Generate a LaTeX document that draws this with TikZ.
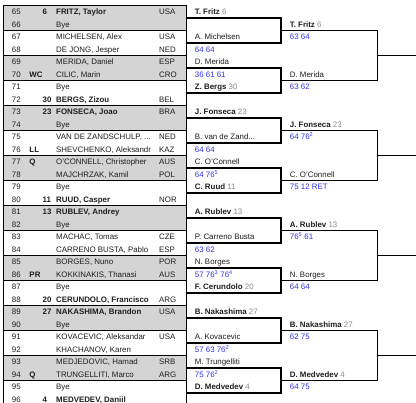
\documentclass[tikz,border=0pt]{standalone}
\usepackage{fontspec}
\setmainfont{Liberation Sans}
\definecolor{ink}{RGB}{30,30,30}
\definecolor{scoreblue}{RGB}{51,51,238}
\definecolor{seedgray}{RGB}{136,136,136}
\definecolor{bandgray}{RGB}{212,212,212}
\newcommand{\seedno}[1]{\textcolor{seedgray}{#1}}
\newcommand{\cutdots}{...}

\begin{document}
\begin{tikzpicture}[x=1pt,y=-1pt,
    cell/.style={anchor=west,inner sep=0pt,text height=5.7pt,text depth=0pt,text=ink,font=\fontsize{7.9}{9}\selectfont},
    score/.style={cell,text=scoreblue},
    sheetrule/.style={line width=0.9pt},
    tie/.style={line width=1.1pt}]
  \useasboundingbox (0,0) rectangle (416,403);
  \clip (0,0) rectangle (416,403);
  % shaded pairs of the sheet
  \foreach \j in {0,1,2,3,4,5,6,7}
    \fill[bandgray] (3,5.5+50*\j) rectangle (186.7,30.5+50*\j);
  \foreach \k in {1,2,3,4,5,6,7,8,9,10,11,12,13,14,15}
    \draw[sheetrule] (3,5.5+25*\k) -- (186.7,5.5+25*\k);
  \draw[sheetrule] (3,410) -- (3,5.5) -- (186.7,5.5) -- (186.7,410);
  % sheet rows
  \foreach \num/\ent/\seed/\plr/\ctry [count=\i from 0] in {
      65//6/{\textbf{FRITZ, Taylor}}/USA, 66///Bye/,
      67///{MICHELSEN, Alex}/USA, 68///{DE JONG, Jesper}/NED,
      69///{MERIDA, Daniel}/ESP, 70/WC//{CILIC, Marin}/CRO,
      71///Bye/, 72//30/{\textbf{BERGS, Zizou}}/BEL,
      73//23/{\textbf{FONSECA, Joao}}/BRA, 74///Bye/,
      75///{VAN DE ZANDSCHULP, \cutdots}/NED, 76/LL//{SHEVCHENKO, Aleksandr}/KAZ,
      77/Q//{O'CONNELL, Christopher}/AUS, 78///{MAJCHRZAK, Kamil}/POL,
      79///Bye/, 80//11/{\textbf{RUUD, Casper}}/NOR,
      81//13/{\textbf{RUBLEV, Andrey}}/, 82///Bye/,
      83///{MACHAC, Tomas}/CZE, 84///{CARRENO BUSTA, Pablo}/ESP,
      85///{BORGES, Nuno}/POR, 86/PR//{KOKKINAKIS, Thanasi}/AUS,
      87///Bye/, 88//20/{\textbf{CERUNDOLO, Francisco}}/ARG,
      89//27/{\textbf{NAKASHIMA, Brandon}}/USA, 90///Bye/,
      91///{KOVACEVIC, Aleksandar}/USA, 92///{KHACHANOV, Karen}/,
      93///{MEDJEDOVIC, Hamad}/SRB, 94/Q//{TRUNGELLITI, Marco}/ARG,
      95///Bye/, 96//4/{\textbf{MEDVEDEV, Daniil}}/}
    {
      \pgfmathsetmacro{\ry}{11.75+12.5*\i}
      \node[cell] (n\num) at (11.7,\ry) {\num};
      \node[cell] (e\num) at (29.3,\ry) {\textbf{\ent}};
      \node[cell] (s\num) at (42.5,\ry) {\textbf{\seed}};
      \node[cell] (p\num) at (56,\ry) {\plr};
      \node[cell] (c\num) at (159,\ry) {\ctry};
    }
  % second round
  \foreach \m in {0,1,2,3,4,5,6,7}
    \draw[tie] (186.7,18+50*\m) -| (281,43+50*\m) -- (186.7,43+50*\m);
  \foreach \plr/\res [count=\k from 0] in {
      \textbf{T. Fritz} \seedno{6}/, A. Michelsen/64 64,
      D. Merida/36 61 61, \textbf{Z. Bergs} \seedno{30}/,
      \textbf{J. Fonseca} \seedno{23}/, B. van de Zand\cutdots/64 64,
      C. O'Connell/64 76\textsuperscript{5}, \textbf{C. Ruud} \seedno{11}/,
      \textbf{A. Rublev} \seedno{13}/, P. Carreno Busta/63 62,
      N. Borges/57 76\textsuperscript{3} 76\textsuperscript{4}, \textbf{F. Cerundolo} \seedno{20}/,
      \textbf{B. Nakashima} \seedno{27}/, A. Kovacevic/57 63 76\textsuperscript{2},
      M. Trungelliti/75 76\textsuperscript{2}, \textbf{D. Medvedev} \seedno{4}/}
    {
      \pgfmathsetmacro{\ly}{18+25*\k}
      \node[cell] (a\k) at (194.7,\ly-6.25) {\plr};
      \node[score] (as\k) at (194.7,\ly+6.25) {\res};
    }
  % third round
  \foreach \n in {0,1,2,3}
    \draw[tie] (281,30.5+100*\n) -| (377.7,80.5+100*\n) -- (281,80.5+100*\n)
               (377.7,55.5+100*\n) -- (416,55.5+100*\n);
  \foreach \plr/\res [count=\m from 0] in {
      \textbf{T. Fritz} \seedno{6}/63 64, D. Merida/63 62,
      \textbf{J. Fonseca} \seedno{23}/64 76\textsuperscript{2}, C. O'Connell/75 12 RET,
      \textbf{A. Rublev} \seedno{13}/76\textsuperscript{5} 61, N. Borges/64 64,
      \textbf{B. Nakashima} \seedno{27}/62 75, \textbf{D. Medvedev} \seedno{4}/64 75}
    {
      \pgfmathsetmacro{\ly}{30.5+50*\m}
      \node[cell] (b\m) at (289.7,\ly-6.25) {\plr};
      \node[score] (bs\m) at (289.7,\ly+6.25) {\res};
    }
\end{tikzpicture}
\end{document}
